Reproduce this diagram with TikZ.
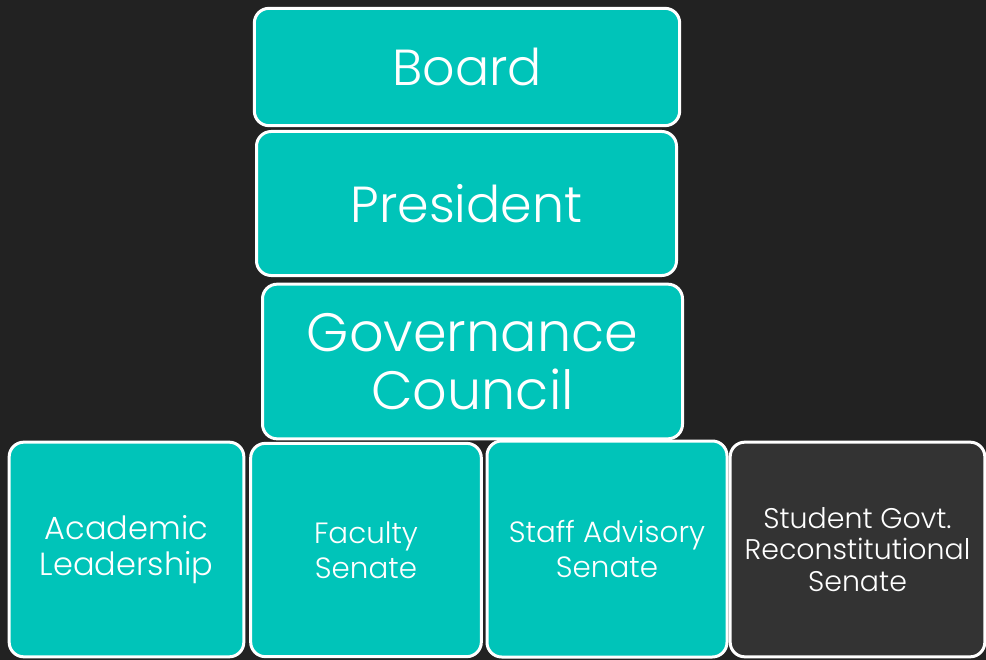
\documentclass[tikz,border=0pt]{standalone}
\usepackage{fontspec}
\setmainfont{Poppins}[UprightFont=* Light]
\definecolor{bgdark}{RGB}{34,34,34}
\definecolor{tealbox}{RGB}{0,196,185}
\definecolor{greybox}{RGB}{51,51,51}
\tikzset{
  orgbox/.style={draw=white, line width=2.25pt, rounded corners=11pt, fill=tealbox,
    text=white, align=center, inner sep=0pt},
  stubox/.style={orgbox, fill=greybox},
  bigtext/.style={font=\fontsize{38}{44}\selectfont},
  midtext/.style={font=\fontsize{40.5}{43.5}\selectfont},
  smalltext/.style={font=\fontsize{22}{26}\selectfont},
  tinytext/.style={font=\fontsize{21.3}{23.5}\selectfont}
}
\begin{document}
\begin{tikzpicture}[x=0.75pt,y=-0.75pt]
  \fill[bgdark] (0,0) rectangle (986,660);
  \useasboundingbox (0,0) rectangle (986,660);
  % top column
  \node[orgbox,bigtext,minimum width=319pt,minimum height=88pt] (board) at (467,67) {Board};
  \node[orgbox,bigtext,minimum width=315pt,minimum height=108pt] (president) at (466.5,203.5) {President};
  \node[orgbox,midtext,minimum width=315pt,minimum height=116pt] (council) at (472.5,361.5) {Governance\\Council};
  % senates along the bottom
  \node[orgbox,font=\fontsize{24}{26.5}\selectfont,minimum width=176pt,minimum height=161pt] (academic) at (126.5,549.5) {Academic\\Leadership};
  \node[orgbox,smalltext,minimum width=173pt,minimum height=160pt] (faculty) at (366,550) {Faculty\\Senate};
  \node[orgbox,smalltext,minimum width=180pt,minimum height=162pt] (staff) at (607,549) {Staff Advisory\\Senate};
  \node[stubox,tinytext,minimum width=191pt,minimum height=161pt] (student) at (857.5,549.5) {Student Govt.\\Reconstitutional\\Senate};
\end{tikzpicture}
\end{document}
